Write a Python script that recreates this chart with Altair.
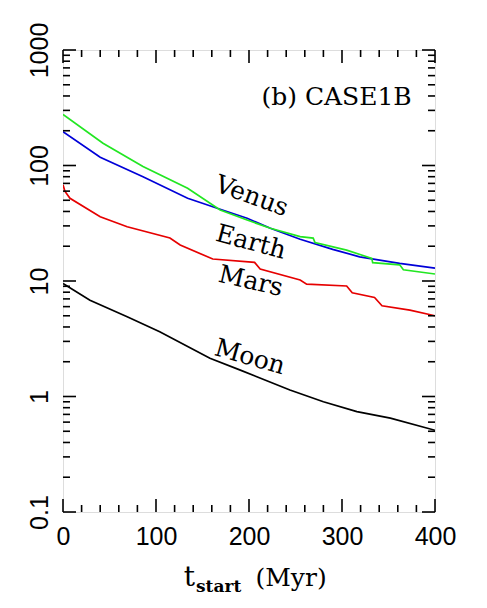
import altair as alt
import pandas as pd

W, H = 372, 462

planets = ["Moon", "Mars", "Earth", "Venus"]
colors = ["#000000", "#e60000", "#0000d8", "#22e622"]

venus_t = [0, 43, 86, 134, 169, 198, 223, 255, 269, 271, 305, 321, 332, 333, 362, 366, 400]
venus_v = [277, 156, 98, 63.5, 41.2, 33.7, 28.6, 24.2, 23.5, 21.5, 18.5, 16.8, 15.7, 14.4, 13.8, 12.5, 11.5]

earth_t = [0, 40, 86, 134, 169, 198, 223, 255, 290, 319, 362, 400]
earth_v = [196, 118, 80, 52, 41.8, 34.9, 28.6, 23.0, 18.8, 16.2, 14.2, 12.9]

mars_t = [0, 2, 7.5, 40, 69, 115, 126, 161, 206, 212, 255, 262, 305, 311, 335, 343, 373, 400]
mars_v = [68, 60, 52, 36, 29.5, 23.6, 20.5, 15.5, 14.5, 12.7, 10.2, 9.4, 9.05, 7.9, 7.2, 6.1, 5.6, 5.0]

moon_t = [0, 29, 69, 104, 158, 190, 244, 280, 316, 352, 400]
moon_v = [9.5, 6.8, 4.9, 3.64, 2.14, 1.70, 1.14, 0.90, 0.74, 0.65, 0.51]

x_major = [0, 100, 200, 300, 400]
x_minor = [v for v in range(0, 401, 20) if v % 100 != 0]
y_major = [0.1, 1, 10, 100, 1000]
y_minor = [m * d for d in [0.1, 1, 10, 100] for m in range(2, 10)]

label_text = ["Venus", "Earth", "Mars", "Moon"]
label_t = [203, 202, 202, 201]
label_v = [54.4, 21.8, 10.0, 2.2]
label_ang = [20, 15, 13, 16]

series = {"Venus": (venus_t, venus_v), "Earth": (earth_t, earth_v),
          "Mars": (mars_t, mars_v), "Moon": (moon_t, moon_v)}
rows = []
for p in planets:
    ts, vs = series[p]
    for t, v in zip(ts, vs):
        rows.append({"planet": p, "t": t, "v": v})
df = pd.DataFrame(rows)

xs = alt.Scale(domain=[0, 400], nice=False, zero=False)
ys = alt.Scale(type="log", domain=[0.1, 1000], nice=False)

lines = alt.Chart(df).mark_line(strokeWidth=1.7, clip=True).encode(
    x=alt.X("t:Q", scale=xs, title=None,
            axis=alt.Axis(values=x_major, ticks=False, tickSize=0, domain=False, grid=False,
                          labelFont="Liberation Sans", labelFontSize=25, labelColor="black",
                          labelPadding=12, labelFlush=False)),
    y=alt.Y("v:Q", scale=ys, title=None,
            axis=alt.Axis(values=y_major, format=".1~f", ticks=False, tickSize=0, domain=False,
                          grid=False, labelFont="Liberation Sans", labelFontSize=25,
                          labelColor="black", labelAngle=270, labelAlign="center",
                          labelBaseline="alphabetic", labelPadding=16, labelFlush=False)),
    color=alt.Color("planet:N", scale=alt.Scale(domain=planets, range=colors), legend=None),
    detail="planet:N",
)


def xticks(vals, ln):
    d = pd.DataFrame({"t": vals})
    bottom = alt.Chart(d).mark_rule(color="black", strokeWidth=1.6).encode(
        x=alt.X("t:Q", scale=xs), y=alt.value(H), y2=alt.value(H - ln))
    top = alt.Chart(d).mark_rule(color="black", strokeWidth=1.6).encode(
        x=alt.X("t:Q", scale=xs), y=alt.value(0), y2=alt.value(ln))
    return [bottom, top]


def yticks(vals, ln):
    d = pd.DataFrame({"v": vals})
    left = alt.Chart(d).mark_rule(color="black", strokeWidth=1.6).encode(
        y=alt.Y("v:Q", scale=ys), x=alt.value(0), x2=alt.value(ln))
    right = alt.Chart(d).mark_rule(color="black", strokeWidth=1.6).encode(
        y=alt.Y("v:Q", scale=ys), x=alt.value(W), x2=alt.value(W - ln))
    return [left, right]


tick_layers = xticks(x_major, 13) + xticks(x_minor, 7) + yticks(y_major, 13) + yticks(y_minor, 7)

lab_df = pd.DataFrame({"t": label_t, "v": label_v, "text": label_text, "ang": label_ang})
labels = alt.Chart(lab_df).mark_text(font="DejaVu Serif", fontSize=25, color="black",
                                     align="center", baseline="middle").encode(
    x=alt.X("t:Q", scale=xs), y=alt.Y("v:Q", scale=ys), text="text:N",
    angle=alt.Angle("ang:Q", scale=None))

case_df = pd.DataFrame({"t": [375], "v": [334], "text": ["(b) CASE1B"]})
case = alt.Chart(case_df).mark_text(font="DejaVu Serif", fontSize=25, color="black",
                                    align="right", baseline="alphabetic").encode(
    x=alt.X("t:Q", scale=xs), y=alt.Y("v:Q", scale=ys), text="text:N")

tt = alt.Chart(pd.DataFrame({"t": [136], "text": ["t"]})).mark_text(
    font="DejaVu Serif", fontSize=28, color="black", align="center", baseline="alphabetic"
).encode(x=alt.X("t:Q", scale=xs), y=alt.value(536), text="text:N")
ts_ = alt.Chart(pd.DataFrame({"t": [143], "text": ["start"]})).mark_text(
    font="DejaVu Serif", fontSize=17, fontWeight="bold", color="black", align="left",
    baseline="alphabetic"
).encode(x=alt.X("t:Q", scale=xs), y=alt.value(542), text="text:N")
tm = alt.Chart(pd.DataFrame({"t": [207], "text": ["(Myr)"]})).mark_text(
    font="DejaVu Serif", fontSize=25, color="black", align="left", baseline="alphabetic"
).encode(x=alt.X("t:Q", scale=xs), y=alt.value(536), text="text:N")

chart = alt.layer(lines, *tick_layers, labels, case, tt, ts_, tm).properties(
    width=W, height=H,
    autosize=alt.AutoSizeParams(type="none"),
    padding={"left": 55, "top": 42, "right": 40, "bottom": 88},
).configure_view(stroke="black", strokeWidth=2).configure(background="white")

chart.save("out.html", embed_options={"renderer": "svg", "actions": False})
